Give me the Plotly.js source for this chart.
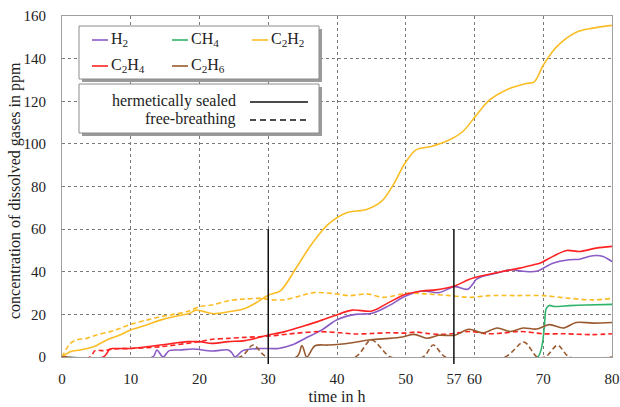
<!DOCTYPE html>
<html><head><meta charset="utf-8">
<script src="https://cdn.plot.ly/plotly-3.0.1.min.js"></script>
<style>html,body{margin:0;padding:0;background:#fff;}#chart{width:620px;height:407px;}</style>
</head><body><div id="chart"></div>
<script>
// ---- data (time in h, concentration in ppm) ----
const h2T = [0, 13.2, 13.8, 14.7, 15.6, 17.2, 19.1, 21.8, 24.2, 24.7, 25.2, 26.3, 29, 31.5, 33.4, 35.4, 37.8, 40, 42.7, 45.1, 47.5, 50, 52.4, 54.8, 57.1, 59, 60.3, 61, 63.3, 65.2, 67.1, 69, 71.4, 73.8, 75.3, 77.2, 78.7, 80];
const h2V = [0, 0, 3.3, 0, 3, 3.3, 3.75, 2.8, 3.3, 2, 0, 3, 4, 4, 5.6, 8.8, 12.7, 17.5, 20, 20.5, 24, 28.6, 31, 30.2, 33, 31.8, 36.5, 37.7, 39.4, 40.9, 40.2, 40.2, 44, 45.6, 45.9, 47.5, 47.2, 44.8];

const ch4T = [0, 69.2, 70.4, 70.9, 71.6, 73.8, 76.3, 80];
const ch4V = [0, 0, 22.5, 24.2, 23.7, 24.1, 24.4, 24.7];

const c2h2T = [0, 1.2, 2.6, 4.6, 6.5, 8.4, 10, 12.3, 14.3, 16.2, 18.6, 19.4, 20.5, 22, 24.2, 26.6, 28.1, 30, 31.8, 34.1, 36.3, 38.7, 41.4, 44.3, 46.5, 48.2, 49.9, 51.5, 53.7, 56.4, 58.3, 60.3, 62.2, 65.1, 67.5, 68.7, 70, 71.9, 74.8, 77.2, 80];
const c2h2V = [0, 2.5, 3.3, 4.8, 8, 10.3, 12.7, 15, 17.3, 18.9, 20.5, 22, 21.4, 20.3, 21.2, 22.8, 25.2, 29, 31.2, 42, 52.9, 62.2, 67.7, 69.2, 73.1, 80.9, 91, 97.2, 98.8, 101.9, 105.8, 113.6, 120.6, 126, 128.3, 129.1, 136.9, 145.4, 152.4, 154.3, 155.6];
const c2h2FbT = [0, 1.2, 2.1, 3.6, 5, 7, 8.4, 10, 12.3, 14.3, 16.2, 18.2, 20, 21.8, 24.2, 26.6, 29, 30.5, 32.4, 34.8, 36.5, 39.4, 41.9, 44.3, 46.7, 50.1, 53, 56.4, 59.3, 62.2, 66.1, 70, 73.3, 77.2, 80];
const c2h2FbV = [0, 6.4, 8, 8.75, 10.3, 11.9, 13.4, 15.3, 17.3, 18.9, 20, 21.3, 23.6, 24.4, 26.4, 27.2, 27.5, 26.8, 26.9, 28.8, 30.2, 29.8, 28.8, 29.6, 28, 29.9, 29.6, 28.8, 28, 28.8, 28.8, 28.8, 27.7, 26.8, 27.5];

const c2h4T = [0, 6, 7, 7.5, 10, 12.3, 14.3, 16.2, 18.2, 20, 21.8, 24.2, 26.6, 29, 30, 32.4, 34.8, 37.2, 39.7, 42.2, 45.1, 47.5, 50, 52.4, 54.4, 57.1, 59.2, 60.9, 61.8, 64.2, 66.6, 68.6, 69.5, 71.4, 73.4, 75.3, 77.7, 80];
const c2h4V = [0, 0, 3.8, 4, 4, 4.8, 5.6, 6.4, 7.2, 7.2, 6.4, 7.2, 7.7, 9.5, 10.3, 11.9, 14.2, 16.6, 19.5, 22, 21.6, 25.5, 29.4, 31, 31.5, 33.3, 36.4, 38, 38.6, 40.2, 41.7, 43.3, 44, 47.2, 50, 49.5, 51.1, 51.9];
const c2h4FbT = [0, 4.1, 4.8, 6, 7.5, 10, 14.3, 18.2, 20, 21.8, 24.2, 26.6, 30, 33.9, 37.2, 40.3, 42.5, 45, 47.5, 50, 51.4, 53, 55, 57, 59.4, 61.8, 64, 66.6, 70, 73, 77, 80];
const c2h4FbV = [0, 0, 3, 3, 3.75, 4, 4.8, 6.4, 7.2, 8.3, 8.75, 9.2, 9.8, 11.1, 11.9, 11.4, 10.8, 11, 11.4, 11.2, 11.7, 11.1, 10.6, 11, 12, 10.9, 11.2, 12, 10.9, 10.9, 10.5, 10.9];

const c2h6T = [0, 34.1, 34.9, 35.6, 36.8, 38.7, 40, 42.2, 44.6, 47, 49.5, 51.2, 53.1, 54.8, 57.1, 59.2, 61.2, 63.3, 65.2, 67.1, 69, 70.9, 72.9, 74.8, 77.2, 80];
const c2h6V = [0, 0, 5.4, 0, 5.3, 5.6, 5.9, 6.7, 8, 8.6, 9.4, 10.6, 8.8, 10.2, 10.2, 13, 11.3, 13.6, 12, 13.6, 13.1, 15.2, 13.6, 16.2, 15.9, 16.2];
const c2h6FbT = [0, 25.9, 27.8, 29.8, 42.6, 45, 47.8, 52.5, 54, 55.8, 64.4, 67.2, 69.1, 70.3, 72.1, 73.8, 80];
const c2h6FbV = [0, 0, 5.6, 0, 0, 8, 0, 0, 5.6, 0, 0, 7, 0, 0, 5.5, 0, 0];

const markerTimes = [30, 57];
const markerTop = 60;
const markerBottom = -4;

const xTicks = [0, 10, 20, 30, 40, 50, 57, 60, 70, 80];
const xGrid = [0, 10, 20, 30, 40, 50, 60, 70, 80];
const yTicks = [0, 20, 40, 60, 80, 100, 120, 140, 160];

const gasNames = ['H<sub>2</sub>', 'CH<sub>4</sub>', 'C<sub>2</sub>H<sub>2</sub>', 'C<sub>2</sub>H<sub>4</sub>', 'C<sub>2</sub>H<sub>6</sub>'];
const gasColors = ['#8a5cc6', '#2fb36a', '#fbbd25', '#ff2222', '#9a5a30'];
const modeNames = ['hermetically sealed', 'free-breathing'];
const yTitle = 'concentration of dissolved gases in ppm';
const xTitle = 'time in h';

// ---- plot ----
const FONT = '"Liberation Serif", "Times New Roman", Times, serif';
const FB_DASH = '5px,3px';
function tr(x, y, color, dash, smoothing) {
  return {x: x, y: y, type: 'scatter', mode: 'lines', showlegend: false, hoverinfo: 'skip',
    line: {color: color, width: 1.6, dash: dash, shape: 'spline', smoothing: smoothing || 0.9}};
}
const traces = [
  tr(h2T, h2V, gasColors[0], 'solid'),
  tr(ch4T, ch4V, gasColors[1], 'solid', 0.5),
  tr(c2h2FbT, c2h2FbV, gasColors[2], FB_DASH),
  tr(c2h2T, c2h2V, gasColors[2], 'solid'),
  tr(c2h4FbT, c2h4FbV, gasColors[3], FB_DASH),
  tr(c2h4T, c2h4V, gasColors[3], 'solid'),
  tr(c2h6FbT, c2h6FbV, gasColors[4], FB_DASH),
  tr(c2h6T, c2h6V, gasColors[4], 'solid'),
  {x: [xGrid[0]], y: [null], xaxis: 'x2', type: 'scatter', mode: 'lines', showlegend: false, hoverinfo: 'skip'}
];

const L = 62, R = 612, T = 16, B = 357;
const px = v => (v - L) / (R - L);
const py = v => (B - v) / (B - T);

const shapes = [];
const annotations = [];
// vertical markers (annotation lines so they can pass below the axis)
markerTimes.forEach(t => annotations.push({x: t, y: markerTop, xref: 'x', yref: 'y', ax: t, ay: markerBottom,
  axref: 'x', ayref: 'y', text: '', showarrow: true, arrowhead: 0, arrowwidth: 1.5, arrowcolor: '#111',
  standoff: 0, startstandoff: 0}));

// y-axis title
annotations.push({xref: 'paper', yref: 'paper', x: px(15), y: py(191), xanchor: 'center', yanchor: 'middle',
  textangle: -90, text: yTitle, showarrow: false, font: {family: FONT, size: 16, color: '#222'}});

function box(x0, y0, x1, y1) {
  shapes.push({type: 'rect', xref: 'paper', yref: 'paper', x0: px(x0 + 3), x1: px(x1 + 3), y0: py(y1 + 3), y1: py(y0 + 3),
    fillcolor: '#9a9a9a', line: {width: 0}, layer: 'above'});
  shapes.push({type: 'rect', xref: 'paper', yref: 'paper', x0: px(x0), x1: px(x1), y0: py(y1), y1: py(y0),
    fillcolor: '#ffffff', line: {color: '#8c8c8c', width: 1}, layer: 'above'});
}
box(79, 26, 319, 79);
box(79, 84, 319, 133);

const legPos = [[92, 40], [172, 40], [252, 40], [92, 66], [172, 66]];
gasNames.forEach((n, i) => {
  const [lx, ly] = legPos[i];
  shapes.push({type: 'line', xref: 'paper', yref: 'paper', x0: px(lx), x1: px(lx + 16), y0: py(ly), y1: py(ly),
    line: {color: gasColors[i], width: 1.6}, layer: 'above'});
  annotations.push({xref: 'paper', yref: 'paper', x: px(lx + 17), y: py(ly - 1), xanchor: 'left', yanchor: 'middle',
    text: n, showarrow: false, font: {family: FONT, size: 16, color: '#222'}});
});
const modeY = [101, 119];
modeNames.forEach((n, i) => {
  annotations.push({xref: 'paper', yref: 'paper', x: px(238), y: py(modeY[i]), xanchor: 'right', yanchor: 'middle',
    text: n, showarrow: false, font: {family: FONT, size: 16, color: '#222'}});
  shapes.push({type: 'line', xref: 'paper', yref: 'paper', x0: px(250), x1: px(308), y0: py(modeY[i] + 1), y1: py(modeY[i] + 1),
    line: {color: '#111', width: 1.3, dash: i === 0 ? 'solid' : '6px,4px'}, layer: 'above'});
});

const tickFont = {family: FONT, size: 15, color: '#222'};
const layout = {
  width: 620, height: 407,
  margin: {l: L, r: 620 - R, t: T, b: 407 - B},
  paper_bgcolor: '#fff', plot_bgcolor: '#fff',
  font: {family: FONT},
  xaxis: {range: [0, 80], tickvals: xTicks, ticktext: xTicks.map(String), showgrid: false, zeroline: false,
    showline: true, mirror: true, linecolor: '#a0a0a0', linewidth: 1, ticks: '', tickfont: tickFont,
    ticklabelstandoff: 8,
    title: {text: xTitle, font: {family: FONT, size: 16, color: '#222'}, standoff: 4}},
  xaxis2: {overlaying: 'x', matches: 'x', range: [0, 80], tickvals: xGrid, showticklabels: false, showgrid: true,
    gridcolor: '#7a7a7a', griddash: 'dot', gridwidth: 1, zeroline: false, showline: false, ticks: ''},
  yaxis: {range: [0, 160], tickvals: yTicks, showgrid: true, gridcolor: '#7a7a7a', griddash: 'dot', gridwidth: 1,
    zeroline: false, showline: true, mirror: true, linecolor: '#a0a0a0', linewidth: 1, ticks: '', tickfont: tickFont,
    ticklabelstandoff: 12},
  shapes: shapes,
  annotations: annotations,
  showlegend: false
};
Plotly.newPlot('chart', traces, layout, {displayModeBar: false, staticPlot: true});
</script></body></html>
